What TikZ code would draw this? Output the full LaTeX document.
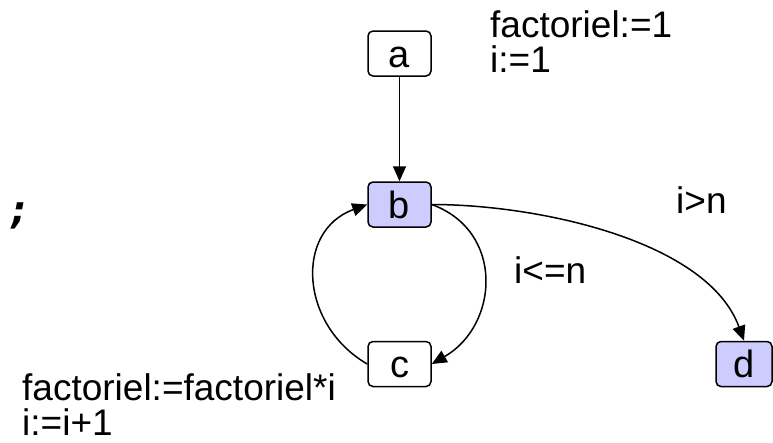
\documentclass[tikz,border=0pt]{standalone}
\usepackage{fontspec}
\setmainfont{Liberation Sans}
\newfontfamily\monofont{DejaVu Sans Mono}
\usetikzlibrary{arrows.meta}
\definecolor{lavande}{HTML}{CCCCFF}

\begin{document}
\begin{tikzpicture}[yscale=-1, x=1pt, y=1pt,
    etat/.style={draw, rounded corners=5pt, line width=1.5pt, inner sep=0pt,
        minimum width=63pt, minimum height=45pt, text height=27pt, text depth=0pt,
        font=\fontsize{38}{38}\selectfont},
    actif/.style={etat, fill=lavande},
    etiq/.style={inner sep=0pt, anchor=base west, align=left,
        font=\fontsize{37}{35}\selectfont},
    fleche/.style={-{Triangle[length=15pt,width=13pt]}, line width=1.5pt}]
    % page size
    \useasboundingbox (0, 0) rectangle (773, 442);
    % states
    \node [etat] (a) at (399.5, 53.5) {a};
    \node [actif] (b) at (399.5, 204.5) {b};
    \node [etat] (c) at (399.5, 364) {c};
    \node [actif, minimum width=56pt] (d) at (744, 364) {d};
    % transitions
    \draw [fleche] (a) -- (b);
    \draw [fleche] (b.east) to [out=20, in=-30, looseness=1.25] (c.east);
    \draw [fleche] (c.west) to [out=210, in=160, looseness=1.25] (b.west);
    \draw [fleche] (b.east) to [out=0, in=-110, looseness=0.8] (d.north);
    % labels (base = last line)
    \node [etiq] (init) at (490, 72.5) {factoriel:=1\\i:=1};
    \node [etiq] (corps) at (22, 435.5) {factoriel:=factoriel*i\\i:=i+1};
    \node [etiq] (sortie) at (676, 213) {i>n};
    \node [etiq] (boucle) at (514, 283) {i<=n};
    % semicolon
    \node [inner sep=0pt, anchor=base west,
        font=\monofont\bfseries\itshape\fontsize{40}{40}\selectfont]
        (pv) at (7, 223) {;};
\end{tikzpicture}
\end{document}
